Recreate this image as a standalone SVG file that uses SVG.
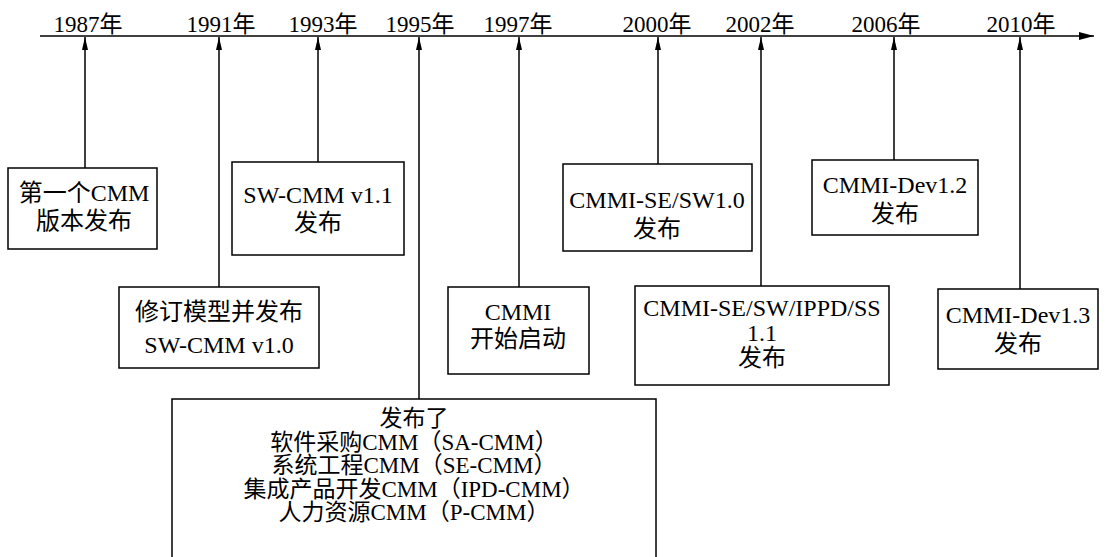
<svg xmlns="http://www.w3.org/2000/svg" width="1106" height="557" viewBox="0 0 1106 557">
<style>
.bx{fill:#fff;stroke:#000;stroke-width:1.5}
.t{font-family:"Liberation Serif","Noto Sans CJK SC",serif;font-size:24px;fill:#000;text-anchor:middle}
.s{font-size:23px}
.y{font-family:"Liberation Serif","Noto Sans CJK SC",serif;font-size:23px;fill:#000;text-anchor:middle}
.c{stroke:#000;stroke-width:1.5;fill:none}
</style>
<defs>
<marker id="ah" viewBox="0 0 13 6" refX="13" refY="3" markerWidth="13" markerHeight="6" markerUnits="userSpaceOnUse" orient="auto">
<path d="M0,0 L13,3 L0,6 Z" fill="#000"/>
</marker>
<marker id="ah2" viewBox="0 0 15 8" refX="15" refY="4" markerWidth="15" markerHeight="8" markerUnits="userSpaceOnUse" orient="auto">
<path d="M0,0 L15,4 L0,8 Z" fill="#000"/>
</marker>
</defs>
<g id="timeline">
<line class="c" x1="40" y1="36" x2="1094" y2="36" marker-end="url(#ah2)"/>
<text class="y" x="88" y="32">1987年</text>
<text class="y" x="221" y="32">1991年</text>
<text class="y" x="323" y="32">1993年</text>
<text class="y" x="420" y="32">1995年</text>
<text class="y" x="518" y="32">1997年</text>
<text class="y" x="657" y="32">2000年</text>
<text class="y" x="760" y="32">2002年</text>
<text class="y" x="886" y="32">2006年</text>
<text class="y" x="1021" y="32">2010年</text>
</g>
<g id="connectors">
<line class="c" x1="85" y1="168" x2="85" y2="37" marker-end="url(#ah)"/>
<line class="c" x1="219" y1="287" x2="219" y2="37" marker-end="url(#ah)"/>
<line class="c" x1="318" y1="162" x2="318" y2="37" marker-end="url(#ah)"/>
<line class="c" x1="419" y1="399" x2="419" y2="37" marker-end="url(#ah)"/>
<line class="c" x1="519" y1="287" x2="519" y2="37" marker-end="url(#ah)"/>
<line class="c" x1="658" y1="164" x2="658" y2="37" marker-end="url(#ah)"/>
<line class="c" x1="761" y1="286" x2="761" y2="37" marker-end="url(#ah)"/>
<line class="c" x1="894" y1="160" x2="894" y2="37" marker-end="url(#ah)"/>
<line class="c" x1="1020" y1="289" x2="1020" y2="37" marker-end="url(#ah)"/>
</g>
<g id="n1987">
<rect class="bx" x="8" y="168" width="149" height="81"/>
<text class="t" x="84" y="201">第一个CMM</text>
<text class="t" x="84" y="229">版本发布</text>
</g>
<g id="n1991">
<rect class="bx" x="119" y="287" width="200" height="81"/>
<text class="t" x="219" y="320">修订模型并发布</text>
<text class="t" x="219" y="353">SW-CMM v1.0</text>
</g>
<g id="n1993">
<rect class="bx" x="232" y="162" width="172" height="93"/>
<text class="t" x="318" y="203">SW-CMM v1.1</text>
<text class="t" x="318" y="231">发布</text>
</g>
<g id="n1995">
<rect class="bx" x="172" y="399" width="484" height="170"/>
<text class="t s" x="414" y="426">发布了</text>
<text class="t s" x="414" y="449.5">软件采购CMM（SA-CMM）</text>
<text class="t s" x="414" y="473">系统工程CMM（SE-CMM）</text>
<text class="t s" x="414" y="496.5">集成产品开发CMM（IPD-CMM）</text>
<text class="t s" x="414" y="520">人力资源CMM（P-CMM）</text>
</g>
<g id="n1997">
<rect class="bx" x="448" y="287" width="141" height="87"/>
<text class="t" x="518" y="320">CMMI</text>
<text class="t" x="518" y="347">开始启动</text>
</g>
<g id="n2000">
<rect class="bx" x="563" y="164" width="189" height="87"/>
<text class="t" x="657" y="208">CMMI-SE/SW1.0</text>
<text class="t" x="657" y="237">发布</text>
</g>
<g id="n2002">
<rect class="bx" x="635" y="286" width="254" height="99"/>
<text class="t" x="762" y="316">CMMI-SE/SW/IPPD/SS</text>
<text class="t" x="762" y="341">1.1</text>
<text class="t" x="762" y="366">发布</text>
</g>
<g id="n2006">
<rect class="bx" x="812" y="160" width="166" height="75"/>
<text class="t" x="895" y="193">CMMI-Dev1.2</text>
<text class="t" x="895" y="222">发布</text>
</g>
<g id="n2010">
<rect class="bx" x="938" y="289" width="160" height="80"/>
<text class="t" x="1018" y="323">CMMI-Dev1.3</text>
<text class="t" x="1018" y="352">发布</text>
</g>
</svg>
